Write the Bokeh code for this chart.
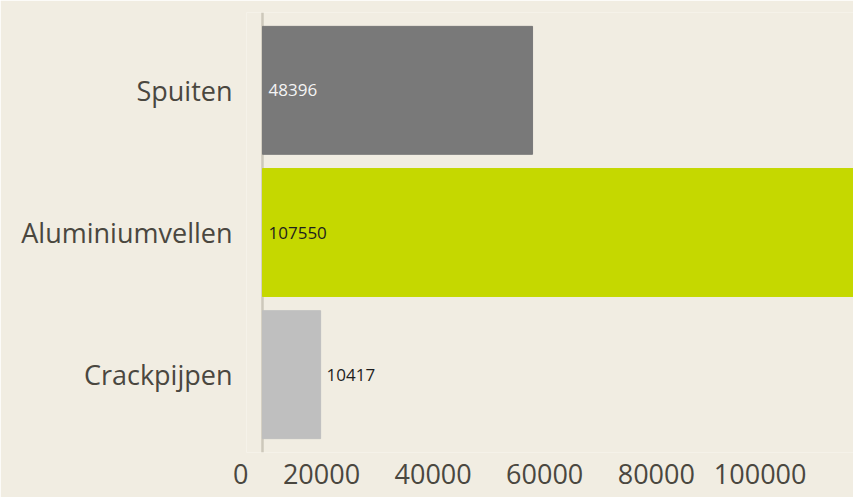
from bokeh.plotting import figure
from bokeh.models import (Range1d, FactorRange, LinearAxis, FixedTicker, Span,
                          ColumnDataSource, BasicTickFormatter)
from bokeh.core.properties import value
from bokeh.embed import file_html
from bokeh.resources import INLINE

# data (top to bottom)
categories = ["Spuiten", "Aluminiumvellen", "Crackpijpen"]
values = [48396, 107550, 10417]
bar_colors = ["#797979", "#c5d800", "#bfbfbf"]
label_colors = ["#f4f4f4", "#1e1e1e", "#1e1e1e"]
tick_values = [0, 20000, 40000, 60000, 80000, 100000]

BG = "#f1ede2"
TXT = "#4a473f"
FONT = "Open Sans"

label_x = [0 if v > 30000 else v for v in values]
src = ColumnDataSource(dict(cat=categories, val=values, color=bar_colors,
                            lx=label_x, lcolor=label_colors,
                            ltxt=[str(v) for v in values]))

p = figure(width=853, height=497, output_backend="svg", toolbar_location=None,
           y_range=FactorRange(factors=categories[::-1], range_padding=0.0475,
                               range_padding_units="absolute"),
           x_range=Range1d(-2867, 105914), x_axis_location=None,
           min_border_left=246, min_border_right=0, min_border_top=12,
           min_border_bottom=45)

p.hbar(y="cat", right="val", left=0, height=0.9, color="color", source=src)
p.text(x="lx", y="cat", text="ltxt", text_color="lcolor", x_offset=6,
       text_align="left", text_baseline="middle", text_font_size="17px",
       text_font=value(FONT), source=src)

p.add_layout(Span(location=0, dimension="height", line_color="#cdc8bb",
                  line_width=2.5, level="underlay"))

p.extra_x_ranges = {"lab": Range1d(-2867 + 2509, 105914 + 2509)}
ax = LinearAxis(x_range_name="lab", ticker=FixedTicker(ticks=tick_values),
                formatter=BasicTickFormatter(use_scientific=False))
ax.major_label_orientation = 1e-6
ax.major_label_text_font = FONT
ax.major_label_text_font_size = "27px"
ax.major_label_text_color = TXT
ax.major_tick_out = 0
ax.major_label_standoff = 21
ax.axis_line_color = None
ax.major_tick_line_color = None
ax.minor_tick_line_color = None
p.add_layout(ax, "below")

ya = p.yaxis[0]
ya.axis_line_color = None
ya.major_tick_line_color = None
ya.minor_tick_line_color = None
ya.major_tick_out = 0
ya.major_label_standoff = 14
ya.major_label_text_font = FONT
ya.major_label_text_font_size = "27px"
ya.major_label_text_color = TXT

p.grid.visible = False
p.outline_line_color = None
p.background_fill_color = BG
p.border_fill_color = BG

html = file_html(p, INLINE)
open("out.html", "w").write(html)
